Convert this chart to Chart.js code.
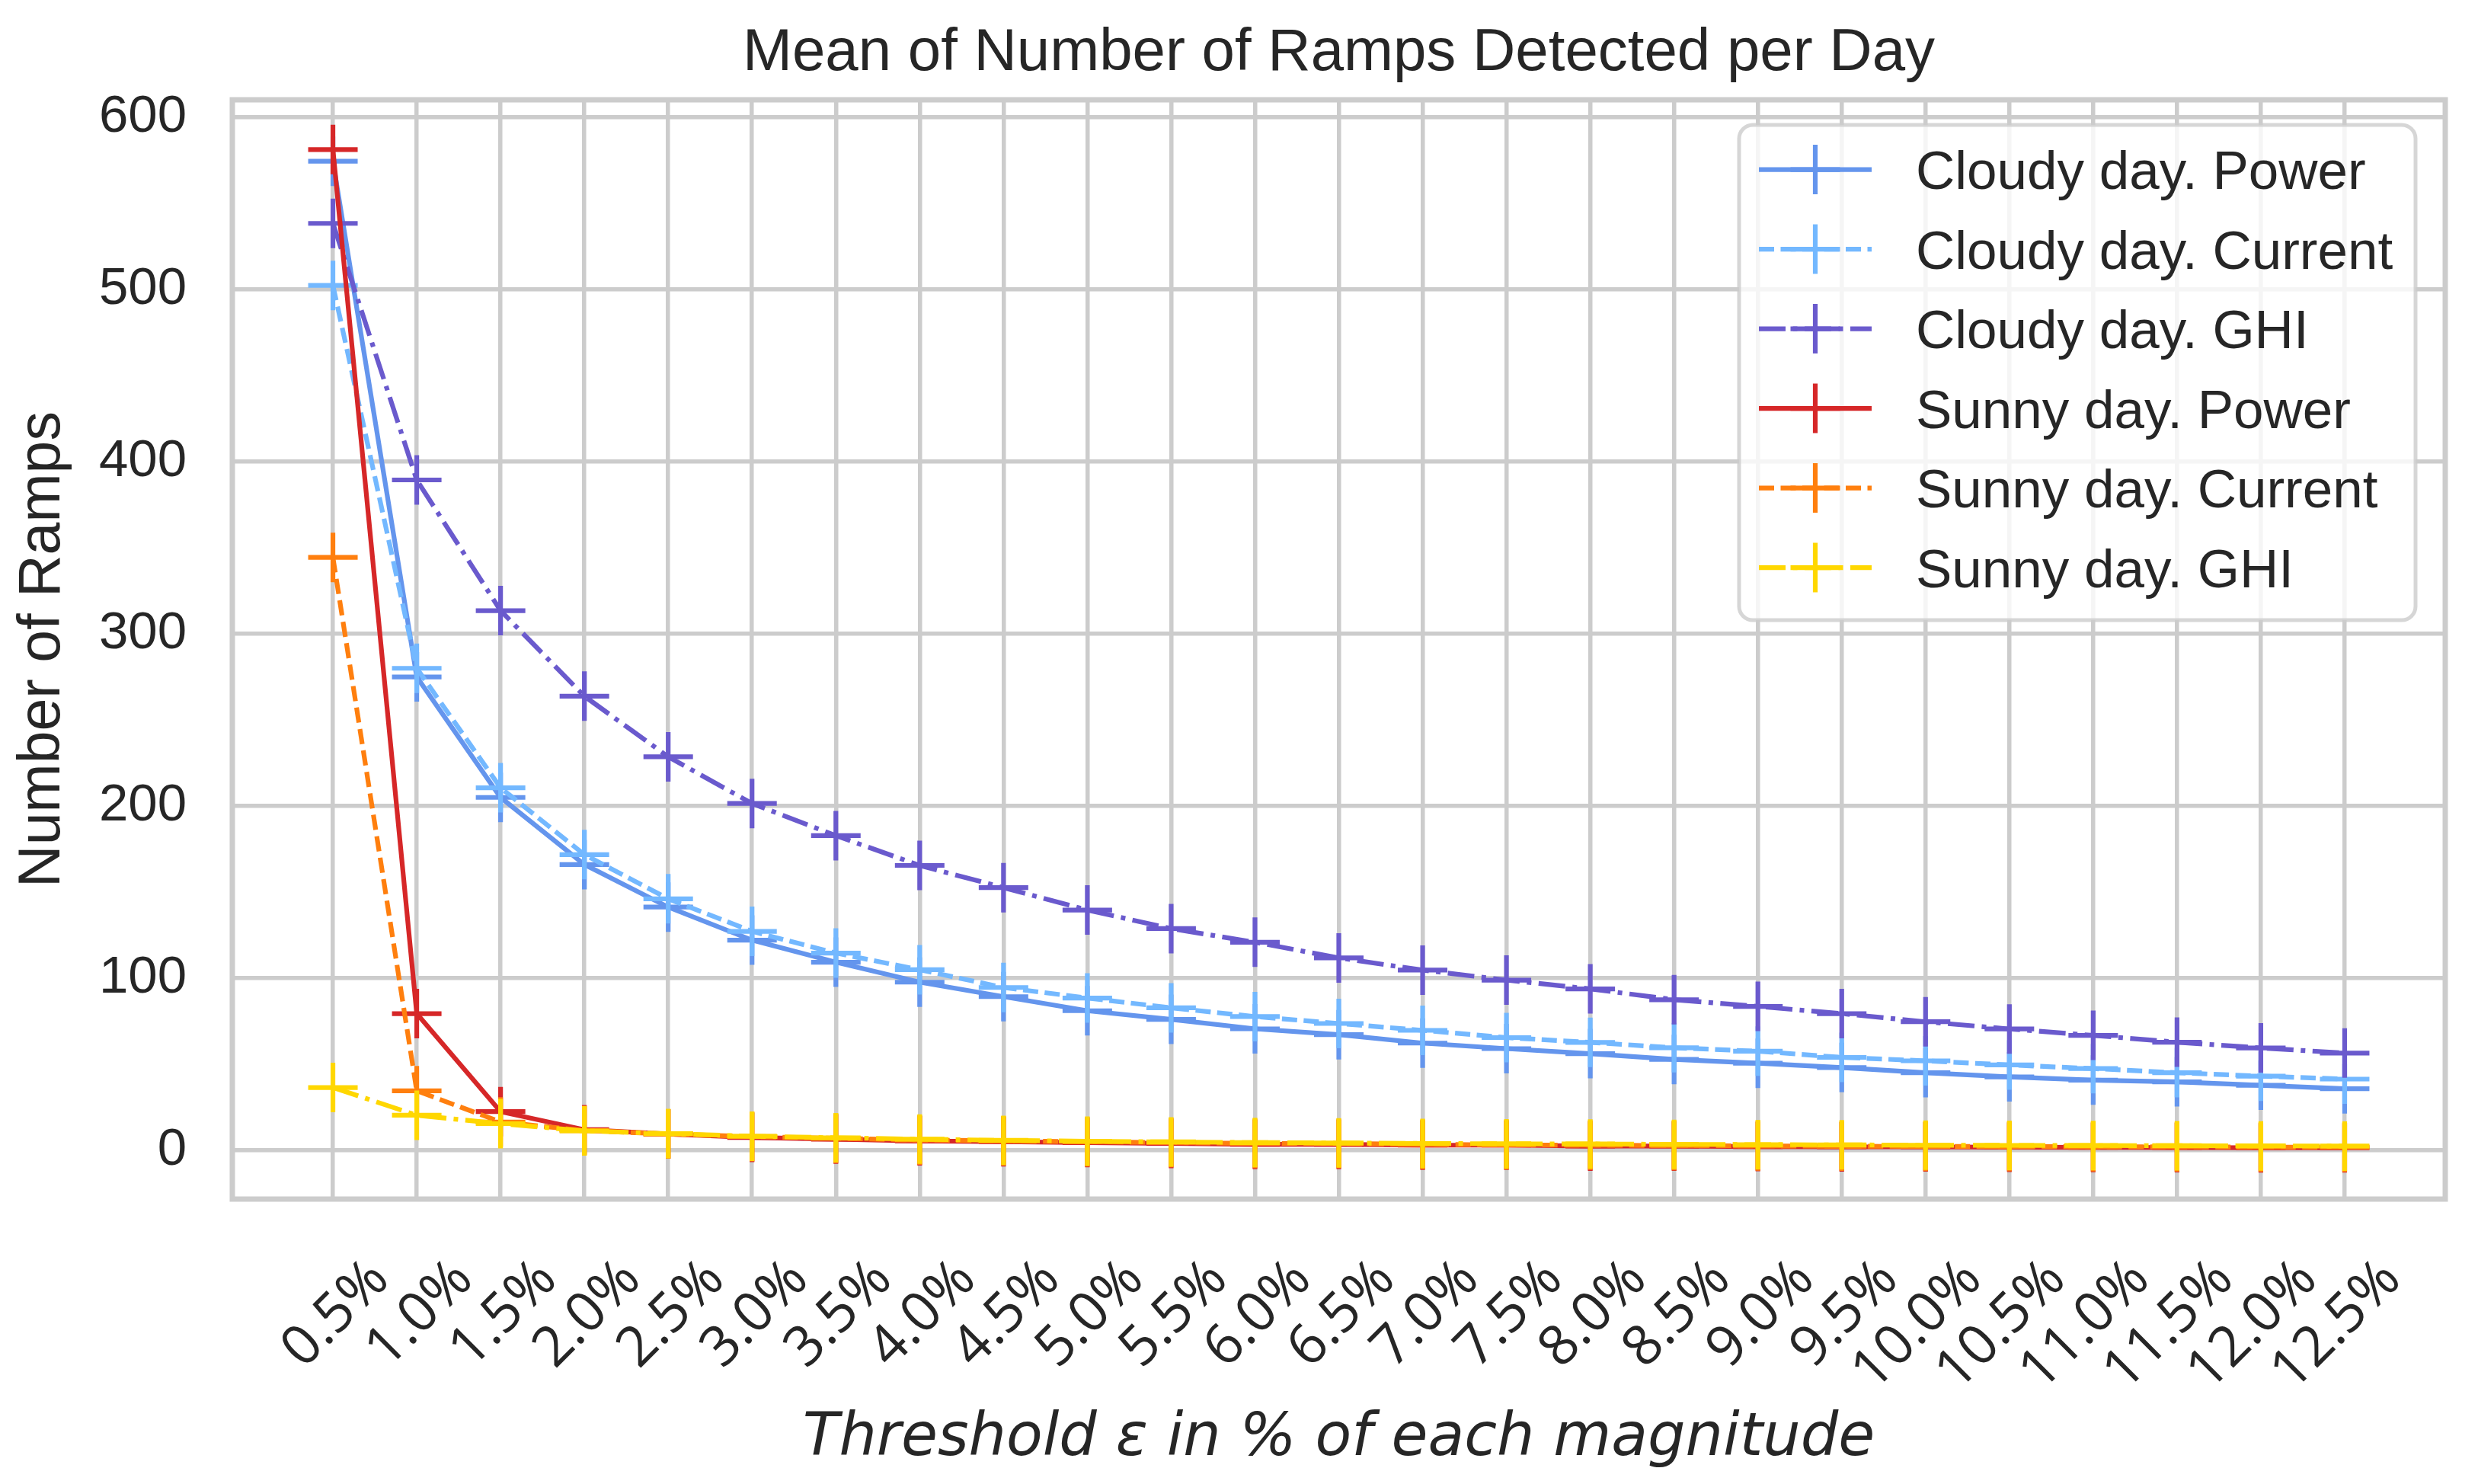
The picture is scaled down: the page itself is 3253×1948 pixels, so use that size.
<!DOCTYPE html>
<html>
<head>
<meta charset="utf-8">
<title>Mean of Number of Ramps Detected per Day</title>
<script src="https://cdn.jsdelivr.net/npm/chart.js"></script>
<style>
  html, body { margin: 0; padding: 0; background: #ffffff; }
  canvas { display: block; }
</style>
</head>
<body>
<canvas id="chart-ramps" width="3253" height="1948"></canvas>
<script>
// thresholds on the x axis
var thresholds = ["0.5%", "1.0%", "1.5%", "2.0%", "2.5%", "3.0%", "3.5%", "4.0%", "4.5%",
    "5.0%", "5.5%", "6.0%", "6.5%", "7.0%", "7.5%", "8.0%", "8.5%", "9.0%", "9.5%",
    "10.0%", "10.5%", "11.0%", "11.5%", "12.0%", "12.5%"];
var yTicks = [0, 100, 200, 300, 400, 500, 600];

// mean number of ramps per day
var cloudyPower = [574.5, 275, 205, 166, 141.3, 122.1, 109.3, 97.7, 89.3, 81.1, 76.1, 70.6, 67.2,
    62.3, 59.1, 56.2, 52.8, 50.6, 48.1, 45.1, 42.7, 40.8, 39.8, 37.8, 35.8];
var cloudyCurrent = [502.4, 280, 210.6, 171.8, 146.1, 127.2, 114.6, 104.9, 94.6, 88.5, 82.8, 77.7, 73.7,
    69.7, 65.5, 62.7, 59.6, 57.6, 54.0, 52.0, 49.6, 47.5, 45.1, 43.1, 41.4];
var cloudyGhi = [538.4, 389.4, 313.5, 263.8, 228.6, 201.5, 182.8, 165.5, 152.6, 139.6, 128.8, 120.9, 111.8,
    104.7, 98.9, 93.8, 87.5, 83.6, 79.4, 74.7, 70.5, 66.8, 62.8, 59.5, 56.5];
var sunnyPower = [581.3, 79.4, 22.5, 12, 9.5, 7.5, 6.5, 5.5, 5, 4.5, 4, 3.5, 3.5,
    3, 3, 2.5, 2.5, 2.2, 2, 2, 1.8, 1.7, 1.6, 1.5, 1.5];
var sunnyCurrent = [344.4, 34.6, 16.5, 11.5, 9.5, 8, 7, 6, 5.5, 5, 4.5, 4, 4,
    3.5, 3.2, 3, 2.8, 2.6, 2.4, 2.3, 2.2, 2.1, 2, 1.9, 1.8];
var sunnyGhi = [36.5, 20.4, 15.5, 11.3, 9.7, 8.2, 7.3, 6.5, 5.8, 5.3, 4.9, 4.5, 4.3,
    4.0, 3.8, 3.7, 3.5, 3.3, 3.2, 3.0, 2.9, 2.8, 2.7, 2.6, 2.5];

var LW = 6.2;
var DASHED = [20, 8.5];
var DASHDOT = [35, 9.5, 6, 9.5];
var TEXT = "#262626";
var GRID = "#cccccc";
var SANS = "'Liberation Sans', Arial, sans-serif";
var OPEN = "'Open Sans', 'Noto Sans', sans-serif";
var DEJAVU = "'DejaVu Sans', sans-serif";

function points(values) {
    return values.map(function (v, i) { return { x: i, y: v }; });
}

function series(label, values, color, dash, n) {
    return {
        label: label,
        data: points(values),
        borderColor: color,
        backgroundColor: color,
        borderWidth: LW,
        borderDash: dash,
        tension: 0,
        fill: false,
        pointStyle: "cross",
        pointRadius: 32.5,
        pointBorderWidth: LW,
        pointBorderColor: color,
        pointBackgroundColor: color,
        order: 5 - n, // later series on top, like matplotlib
    };
}

// matplotlib style frame around the axes
var spines = {
    id: "spines",
    afterDatasetsDraw: function (chart) {
        var a = chart.chartArea, ctx = chart.ctx;
        ctx.save();
        ctx.strokeStyle = GRID;
        ctx.lineWidth = 7;
        ctx.strokeRect(a.left, a.top, a.right - a.left, a.bottom - a.top);
        ctx.restore();
    },
};

// legend in the upper right corner, handle = line + cross marker
var legendBox = {
    id: "legendBox",
    afterDraw: function (chart) {
        var a = chart.chartArea, ctx = chart.ctx;
        var w = 888, h = 650;
        var x0 = a.right - 39 - w, y0 = a.top + 33;
        ctx.save();
        ctx.beginPath();
        ctx.roundRect(x0, y0, w, h, 18);
        ctx.fillStyle = "rgba(255,255,255,0.8)";
        ctx.fill();
        ctx.lineWidth = 5;
        ctx.strokeStyle = "rgba(204,204,204,0.8)";
        ctx.stroke();

        chart.data.datasets.forEach(function (ds, i) {
            var cy = y0 + 58.6 + i * 104.5;
            var hx0 = x0 + 26, hx1 = x0 + 174, cx = (hx0 + hx1) / 2;
            ctx.strokeStyle = ds.borderColor;
            ctx.lineWidth = LW;
            ctx.setLineDash(ds.borderDash || []);
            ctx.beginPath();
            ctx.moveTo(hx0, cy);
            ctx.lineTo(hx1, cy);
            ctx.stroke();
            ctx.setLineDash([]);
            ctx.beginPath();
            ctx.moveTo(cx - 32.5, cy);
            ctx.lineTo(cx + 32.5, cy);
            ctx.moveTo(cx, cy - 32.5);
            ctx.lineTo(cx, cy + 32.5);
            ctx.stroke();

            ctx.fillStyle = TEXT;
            ctx.font = "71px " + SANS;
            ctx.textBaseline = "alphabetic";
            ctx.textAlign = "left";
            ctx.fillText(ds.label, x0 + 232, cy + 25.4);
        });
        ctx.restore();
    },
};

var ctx = document.getElementById("chart-ramps").getContext("2d");
var chart = new Chart(ctx, {
    type: "line",
    data: {
        datasets: [
            series("Cloudy day. Power", cloudyPower, "#6495ED", [], 0),
            series("Cloudy day. Current", cloudyCurrent, "#73B8FF", DASHED, 1),
            series("Cloudy day. GHI", cloudyGhi, "#6A5ACD", DASHDOT, 2),
            series("Sunny day. Power", sunnyPower, "#D62728", [], 3),
            series("Sunny day. Current", sunnyCurrent, "#FF7F0E", DASHED, 4),
            series("Sunny day. GHI", sunnyGhi, "#FFD700", DASHDOT, 5),
        ],
    },
    options: {
        responsive: false,
        devicePixelRatio: 1,
        animation: false,
        events: [],
        layout: {
            padding: { left: 0, right: 43, top: 0, bottom: 0 },
        },
        plugins: {
            legend: { display: false },
            tooltip: { enabled: false },
            title: {
                display: true,
                fullSize: false, // centre over the axes, not the canvas
                text: "Mean of Number of Ramps Detected per Day",
                color: TEXT,
                font: { family: SANS, size: 78, weight: "normal" },
                padding: { top: 24, bottom: 13.4 },
            },
        },
        scales: {
            x: {
                type: "linear",
                min: -1.2,
                max: 25.2,
                afterBuildTicks: function (scale) {
                    scale.ticks = thresholds.map(function (t, i) { return { value: i }; });
                },
                afterFit: function (scale) { scale.height = 374; },
                grid: { color: GRID, lineWidth: 5.5, drawTicks: false },
                border: { display: false },
                ticks: {
                    autoSkip: false,
                    minRotation: 45,
                    maxRotation: 45,
                    padding: 63,
                    labelOffset: 62,
                    color: TEXT,
                    font: { family: OPEN, size: 73 },
                    callback: function (value) { return thresholds[value]; },
                },
                title: {
                    display: true,
                    text: "Threshold ε in % of each magnitude",
                    color: TEXT,
                    font: { family: DEJAVU, size: 78, style: "italic" },
                    padding: { top: 0, bottom: 11 },
                },
            },
            y: {
                min: -28.3,
                max: 610.2,
                afterBuildTicks: function (scale) {
                    scale.ticks = yTicks.map(function (v) { return { value: v }; });
                },
                afterFit: function (scale) { scale.width = 305; },
                grid: { color: GRID, lineWidth: 5.5, drawTicks: false },
                border: { display: false },
                ticks: {
                    padding: 60,
                    color: TEXT,
                    font: { family: SANS, size: 69 },
                },
                title: {
                    display: true,
                    text: "Number of Ramps",
                    color: TEXT,
                    font: { family: SANS, size: 77 },
                    padding: { top: 11, bottom: 0 },
                },
            },
        },
    },
    plugins: [spines, legendBox],
});
</script>
</body>
</html>
